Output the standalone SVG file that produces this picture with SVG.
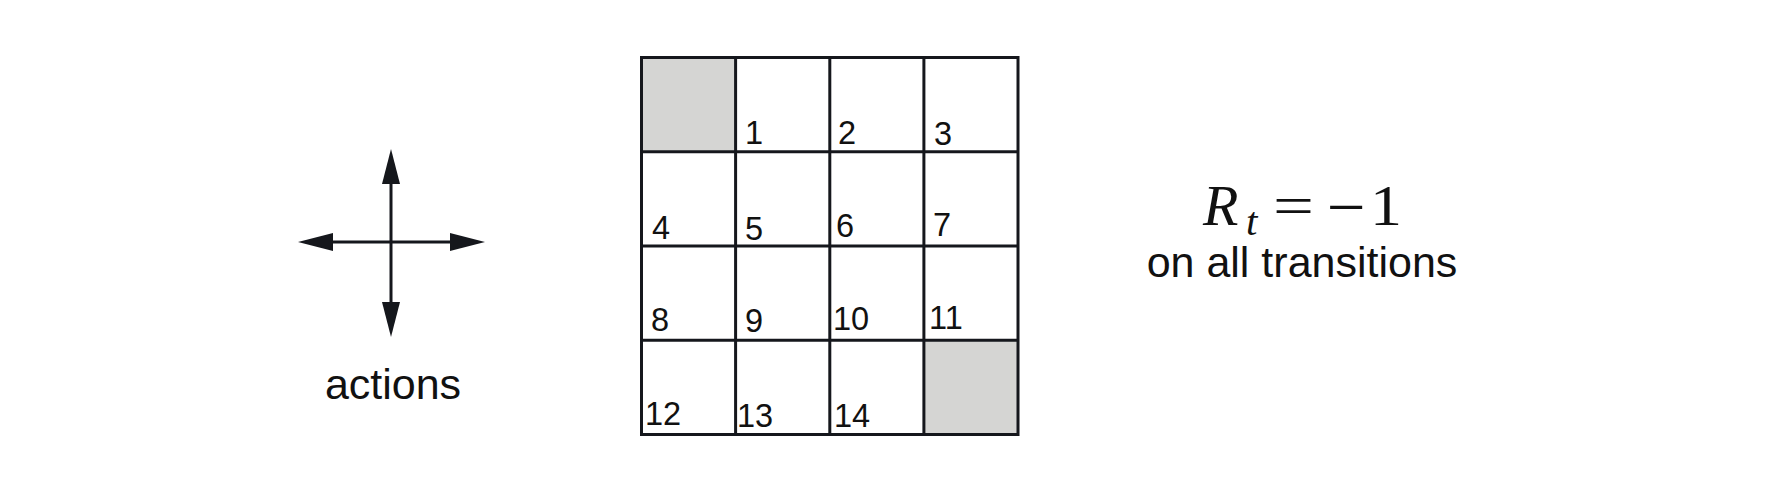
<svg xmlns="http://www.w3.org/2000/svg" width="1778" height="488" viewBox="0 0 1778 488">
<defs>
<style>
.ln{stroke:#15171c;stroke-width:3;fill:none}
.ah{fill:#15171c}
.num{font-family:"Liberation Sans",Arial,sans-serif;font-size:32.5px;fill:#111}
.lbl{font-family:"Liberation Sans",Arial,sans-serif;font-size:43px;fill:#111}
.math{font-family:"Liberation Serif","Times New Roman",serif;fill:#111;font-size:58px}
.term{fill:#d5d5d3}
</style>
</defs>
<rect width="1778" height="488" fill="#ffffff"/>
<g id="actions">
<g id="connectors">
<line class="ln" x1="391" y1="180" x2="391" y2="306"/>
<line class="ln" x1="328" y1="242" x2="454" y2="242"/>
<polygon class="ah" points="391,149 382,184 400,184"/>
<polygon class="ah" points="391,337 382,302 400,302"/>
<polygon class="ah" points="298,242 333,233 333,251"/>
<polygon class="ah" points="485,242 450,233 450,251"/>
</g>
<text class="lbl" x="393" y="399" text-anchor="middle">actions</text>
</g>
<g id="grid">
<rect class="term" x="641.5" y="57.5" width="94" height="94"/>
<rect class="term" x="924" y="340" width="94" height="94.5"/>
<g class="ln">
<rect x="641.5" y="57.5" width="376.5" height="377"/>
<line x1="735.6" y1="57.5" x2="735.6" y2="434.5"/>
<line x1="829.8" y1="57.5" x2="829.8" y2="434.5"/>
<line x1="923.9" y1="57.5" x2="923.9" y2="434.5"/>
<line x1="641.5" y1="151.7" x2="1018" y2="151.7"/>
<line x1="641.5" y1="246" x2="1018" y2="246"/>
<line x1="641.5" y1="340.2" x2="1018" y2="340.2"/>
</g>
</g>
<g id="labels">
<text id="s1" class="num" x="745" y="144">1</text>
<text id="s2" class="num" x="838" y="144">2</text>
<text id="s3" class="num" x="934" y="145">3</text>
<text id="s4" class="num" x="652" y="239">4</text>
<text id="s5" class="num" x="745" y="240">5</text>
<text id="s6" class="num" x="836" y="237">6</text>
<text id="s7" class="num" x="933" y="236">7</text>
<text id="s8" class="num" x="651" y="331">8</text>
<text id="s9" class="num" x="745" y="332">9</text>
<text id="s10" class="num" x="833" y="330">10</text>
<text id="s11" class="num" x="929" y="329">11</text>
<text id="s12" class="num" x="645" y="425">12</text>
<text id="s13" class="num" x="737" y="427">13</text>
<text id="s14" class="num" x="834" y="427">14</text>
</g>
<g id="reward">
<text class="math" y="225"><tspan x="1203" font-style="italic">R</tspan><tspan x="1246" y="235" font-size="41" font-style="italic">t</tspan><tspan x="1273" y="225" textLength="41" lengthAdjust="spacingAndGlyphs">=</tspan></text>
<text transform="translate(1327,222) scale(1.5,1)" font-family="Liberation Sans" font-size="44" fill="#111">−</text>
<text class="math" x="1370" y="225" textLength="32" lengthAdjust="spacingAndGlyphs">1</text>
<text class="lbl" x="1302" y="277" text-anchor="middle">on all transitions</text>
</g>
</svg>
